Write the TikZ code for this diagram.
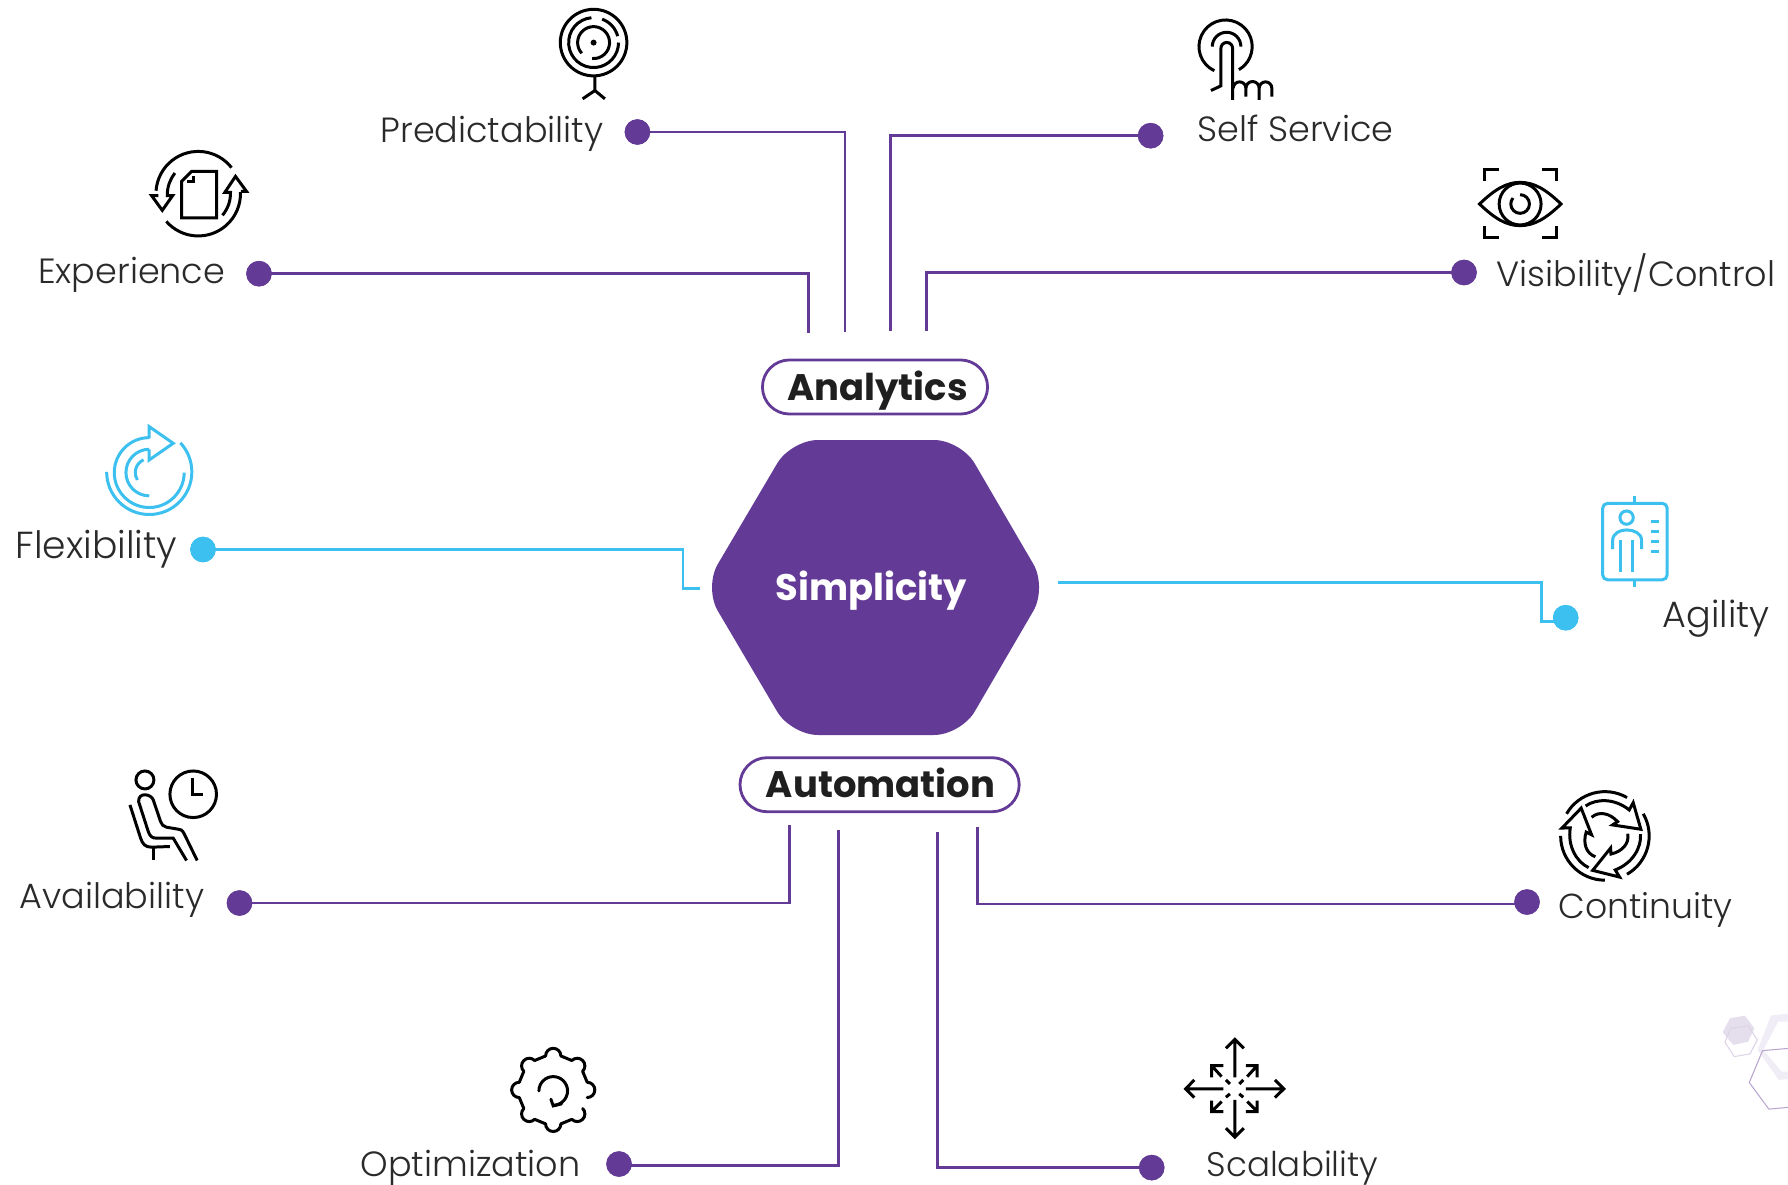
\documentclass[tikz,border=0pt]{standalone}
\usepackage{fontspec}
\setmainfont{Poppins}
\newfontfamily\lightfont{Poppins Light}
\newfontfamily\boldfont{Poppins Bold}
\usetikzlibrary{calc}
\definecolor{purp}{HTML}{633B96}
\definecolor{sky}{HTML}{3BC0EF}
\definecolor{ink}{HTML}{2B2A2B}
\newcommand{\zarc}[5]{\draw ({#1+#3*cos(#4)},{#2+#3*sin(#4)}) arc[start angle=#4,end angle=#5,radius=#3];}
\tikzset{
 lab/.style={anchor=base west,inner sep=0pt,text=ink,font=\lightfont\fontsize{9.95}{12}\selectfont},
 dot/.style={circle,fill=purp,draw=none,minimum size=0.255cm,inner sep=0pt},
 bluedot/.style={dot,fill=sky},
 conn/.style={draw=purp,line width=0.8pt},
 bconn/.style={draw=sky,line width=0.8pt},
 pill/.style={draw=purp,line width=0.8pt,fill=white,rounded corners=0.27cm,inner sep=0pt},
 pilltext/.style={anchor=base,inner sep=0pt,text=black!88,font=\boldfont\fontsize{10.5}{12}\selectfont},
 icon/.style={line width=0.85pt,black},
 blueicon/.style={line width=0.85pt,sky},
}
\begin{document}
\begin{tikzpicture}[x=0.01cm,y=-0.01cm]
\useasboundingbox (0,0) rectangle (1788,1185);
\fill[white] (0,0) rectangle (1788,1185);

% decorative hexagons
\begin{scope}[shift={(1700,1000)},x=0.003333cm,y=-0.003333cm]
 \clip (0,0) rectangle (264,390);
 \fill[even odd rule,fill=purp!9] (270,40)--(213,47)--(173,150)--(237,240)--(270,237)--cycle (270,65)--(235,65)--(190,150)--(245,215)--(270,215)--cycle;
 \fill[purp!17] (68,97)--(90,55)--(135,47)--(163,85)--(145,125)--(100,135)--cycle;
 \draw[purp!22,line width=0.3pt] (75,127)--(92,85)--(145,78)--(172,120)--(150,162)--(103,170)--cycle;
 \draw[purp!45,line width=0.3pt] (270,145)--(188,152)--(148,248)--(207,328)--(270,322);
\end{scope}

% hexagon
\fill[purp,rounded corners=0.27cm] (791,440)--(961,440)--(1047,587.5)--(961,735)--(791,735)--(704,587.5)--cycle;
\node[anchor=base,inner sep=0pt,text=white,font=\boldfont\fontsize{10.5}{12}\selectfont] (simp) at (871,600) {Simplicity};

% pills
\node[pill,minimum width=2.25cm,minimum height=0.54cm] (ana) at (875,387) {};
\node[pilltext] (anat) at (877.5,400.5) {Analytics};
\node[pill,minimum width=2.79cm,minimum height=0.54cm] (auto) at (879.6,784.7) {};
\node[pilltext] (autot) at (880.5,797) {Automation};

% dots
\node[dot] (dP) at (637.4,132) {};
\node[dot] (dE) at (259,273.7) {};
\node[dot] (dS) at (1150.6,135.7) {};
\node[dot] (dV) at (1464,272.5) {};
\node[bluedot] (dF) at (203,549.5) {};
\node[bluedot] (dA) at (1565.7,617.7) {};
\node[dot] (dAv) at (239.5,903) {};
\node[dot] (dO) at (619,1164) {};
\node[dot] (dSc) at (1151.7,1167.6) {};
\node[dot] (dC) at (1527,902) {};

% connector free ends
\coordinate (eP) at (845,332);
\coordinate (eE) at (808.5,333);
\coordinate (eS) at (890.6,331);
\coordinate (eV) at (926.5,331);
\coordinate (eF) at (700,588.4);
\coordinate (kF) at (683,588.4);
\coordinate (sA) at (1058,582.7);
\coordinate (kA) at (1541.7,621.5);
\coordinate (eAv) at (789.3,825);
\coordinate (eO) at (838.3,830);
\coordinate (eSc) at (937.7,832.3);
\coordinate (eC) at (977.3,827.3);

\draw[conn] (dP.center) -| (eP);
\draw[conn] (dE.center) -| (eE);
\draw[conn] (dS.center) -| (eS);
\draw[conn] (dV.center) -| (eV);
\draw[bconn] (dF.center) -| (kF) -- (eF);
\draw[bconn] (sA) -| (kA) -- (dA.center |- kA);
\draw[conn] (dAv.center) -| (eAv);
\draw[conn] (dO.center) ++(0,1.4) -| (eO);
\draw[conn] (dSc.center) -| (eSc);
\draw[conn] (dC.center) ++(0,2) -| (eC);
\node[dot] at (dP) {}; \node[dot] at (dE) {}; \node[dot] at (dS) {}; \node[dot] at (dV) {};
\node[bluedot] at (dF) {}; \node[bluedot] at (dA) {};
\node[dot] at (dAv) {}; \node[dot] at (dO) {}; \node[dot] at (dSc) {}; \node[dot] at (dC) {};

% labels
\node[lab] (tP) at (380,143) {Predictability};
\node[lab] (tE) at (37.6,283) {Experience};
\node[lab] (tS) at (1197,141.5) {Self Service};
\node[lab] (tV) at (1496,286) {Visibility/Control};
\node[lab,font=\lightfont\fontsize{10.7}{12}\selectfont] (tF) at (15,558.5) {Flexibility};
\node[lab,font=\lightfont\fontsize{10.4}{12}\selectfont] (tA) at (1662,627) {Agility};
\node[lab] (tAv) at (19,908.5) {Availability};
\node[lab,font=\lightfont\fontsize{9.85}{12}\selectfont] (tC) at (1558,918) {Continuity};
\node[lab] (tO) at (360,1176) {Optimization};
\node[lab,font=\lightfont\fontsize{9.7}{12}\selectfont] (tSc) at (1206,1176) {Scalability};

% --- icons, in 3x zoom coordinates ---
% predictability + experience
\begin{scope}[shift={(130,0)},x=0.003333cm,y=-0.003333cm,icon]
 \draw (1393,128) circle[radius=100];
 \zarc{1393}{128}{75}{-95}{-360}
 \zarc{1393}{128}{75}{-70}{-15}
 \zarc{1393}{128}{48}{-222}{95}
 \fill (1393,128) circle[radius=9];
 \draw (1397,228)--(1397,272) (1360,297)--(1397,272)--(1427,297);
 % experience
 \zarc{205}{582}{127}{-38}{-176}
 \draw (85,588)--(65,588)--(97,632)--(128,588)--(112,588) .. controls (112,560) and (120,540) .. (135,520);
 \zarc{205}{582}{127}{139}{-2}
 \draw (333,575)--(350,575)--(317,530)--(285,578)--(302,578) .. controls (302,605) and (295,625) .. (278,647);
 \draw (155,655)--(155,545)--(185,515)--(260,515)--(260,655)--cycle;
 \draw (172,545)--(190,545)--(190,530);
\end{scope}

% self service + eye
\begin{scope}[shift={(1170,0)},x=0.003333cm,y=-0.003333cm,icon]
 \zarc{167}{140}{80}{115}{420}
 \zarc{170}{140}{43}{180}{360}
 \draw (123,272)--(153,258)--(153,145) arc[start angle=180,end angle=360,radius=17.5]--(188,300);
 \draw (190,265) arc[start angle=180,end angle=360,radius=19]--(228,290);
 \draw (228,265) arc[start angle=180,end angle=360,radius=20]--(268,300);
 \draw (268,265) arc[start angle=180,end angle=360,radius=19]--(306,290);
 % eye
 \draw (945,545)--(945,510)--(988,510) (1118,510)--(1160,510)--(1160,545);
 \draw (945,678)--(945,713)--(988,713) (1118,713)--(1160,713)--(1160,678);
 \draw (930,613) .. controls (975,570) and (1010,548) .. (1052,548) .. controls (1095,548) and (1130,570) .. (1175,613) .. controls (1130,656) and (1095,678) .. (1052,678) .. controls (1010,678) and (975,656) .. (930,613) -- cycle;
 \draw (1052,613) circle[radius=63];
 \zarc{1052}{613}{28}{-90}{220}
\end{scope}

% flexibility
\begin{scope}[shift={(90,410)},x=0.003333cm,y=-0.003333cm,blueicon]
 \zarc{178}{186}{128}{180}{-43}
 \zarc{178}{188}{105}{270}{0}
 \zarc{178}{188}{70}{270}{90}
 \zarc{178}{188}{42}{246}{148}
 \draw (178,85)--(178,50)--(250,100)--(178,150)--(178,118);
\end{scope}

% agility
\begin{scope}[shift={(1580,480)},x=0.003333cm,y=-0.003333cm,blueicon]
 \draw[rounded corners=0.05cm] (68,70) rectangle (262,300);
 \draw (165,48)--(165,70) (165,300)--(165,323);
 \draw (140,113) circle[radius=20];
 \draw (98,208)--(98,182) .. controls (98,160) and (120,150) .. (140,150) .. controls (162,150) and (185,160) .. (185,182)--(185,208);
 \draw (123,180)--(123,275) (158,180)--(158,275);
 \draw (213,125)--(237,125) (213,155)--(237,155) (213,185)--(237,185) (213,215)--(237,215);
\end{scope}

% availability
\begin{scope}[shift={(110,750)},x=0.003333cm,y=-0.003333cm,icon]
 \draw (105,90) circle[radius=27];
 \draw (250,133) circle[radius=70];
 \draw (248,85)--(248,133)--(280,133);
 \draw (262,332)--(222,250) .. controls (216,240) and (212,238) .. (205,238) -- (170,232) .. controls (160,230) and (155,224) .. (152,215) -- (130,150) .. controls (124,132) and (85,125) .. (86,155) -- (115,245) .. controls (120,258) and (125,265) .. (140,265) -- (190,265) -- (230,332);
 \draw (60,165)--(92,265) .. controls (98,282) and (105,292) .. (125,292)--(180,290);
 \draw (130,292)--(130,332);
\end{scope}

% continuity
\begin{scope}[shift={(1540,780)},x=0.003333cm,y=-0.003333cm,icon]
 \foreach \a in {0,120,240}{
 \begin{scope}[rotate around={\a:(195,168)}]
 \zarc{195}{168}{133}{-150}{-60}
 \draw (137,78) .. controls (170,55) and (225,55) .. (268,90)--(280,68)--(303,148)--(218,135)--(233,125) .. controls (210,100) and (178,92) .. (155,112);
 \end{scope}}
\end{scope}

% optimization
\begin{scope}[shift={(490,1030)},x=0.003333cm,y=-0.003333cm,icon,line cap=round]
 \foreach \k in {0,...,7}{
  \pgfmathsetmacro\th{-45-45*\k}
  \pgfmathsetmacro\cx{190+102*cos(\th)}
  \pgfmathsetmacro\cy{180-102*sin(\th)}
  \pgfmathsetmacro\nx{190+102*cos(\th-45)}
  \pgfmathsetmacro\ny{180-102*sin(\th-45)}
  \draw ({\cx+23*cos(\th+90)},{\cy-23*sin(\th+90)}) arc[start angle={-1*\th-90},end angle={-1*\th+90},radius=23];
  \ifnum\k<7
   \draw ({\cx+23*cos(\th-90)},{\cy-23*sin(\th-90)}) -- ({\nx+23*cos(\th+45)},{\ny-23*sin(\th+45)});
  \fi
 }
 \zarc{190}{183}{43}{180}{450}
 \draw (183,208)--(190,228)--(215,222);
\end{scope}

% scalability
\begin{scope}[shift={(1170,1020)},x=0.003333cm,y=-0.003333cm,icon]
 \draw (195,172)--(195,60) (168,85)--(195,58)--(222,85);
 \draw (195,240)--(195,352) (168,325)--(195,352)--(222,325);
 \draw (160,207)--(47,207) (73,180)--(47,207)--(73,233);
 \draw (228,207)--(342,207) (315,180)--(342,207)--(315,233);
 \draw (125,172)--(125,137)--(160,137) (125,137)--(155,170);
 \draw (228,137)--(262,137)--(262,172) (262,137)--(232,170);
 \draw (125,242)--(125,275)--(160,275) (125,275)--(155,245);
 \draw (228,275)--(262,275)--(262,242) (262,275)--(232,245);
 \draw (168,180)--(180,192) (220,180)--(208,192) (168,232)--(180,222) (220,232)--(208,222);
\end{scope}
\end{tikzpicture}
\end{document}
